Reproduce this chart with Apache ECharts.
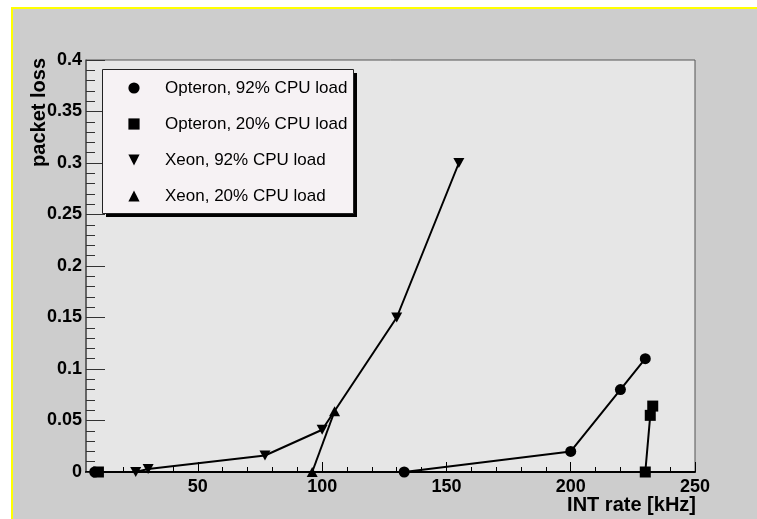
<!DOCTYPE html>
<html><head><meta charset="utf-8">
<script src="https://cdn.jsdelivr.net/npm/echarts@6/dist/echarts.min.js"></script>
<style>
html,body{margin:0;padding:0;background:#fff;}
#wrap{position:relative;width:757px;height:519px;overflow:hidden;}
#bg{position:absolute;left:11px;top:7px;right:0;bottom:0;background:#cdcdcd;border-top:2px solid #ffff00;border-left:2px solid #ffff00;}
#c{position:absolute;left:0;top:0;width:757px;height:519px;}
</style>
</head><body>
<div id="wrap"><div id="bg"></div><div id="c"></div></div>
<script>
// ---- data ----
const seriesNames = ['Opteron, 92% CPU load', 'Opteron, 20% CPU load', 'Xeon, 92% CPU load', 'Xeon, 20% CPU load'];
const opteron92 = [[8.5, 0], [133, 0], [200, 0.02], [220, 0.08], [230, 0.11]];
const opteron20 = [[10, 0], [230, 0], [232, 0.055], [233, 0.064]];
const xeon92 = [[25, 0], [30, 0.003], [77, 0.016], [100, 0.041], [130, 0.15], [155, 0.30]];
const xeon20 = [[96, 0], [105, 0.059]];
const xMajorTicks = [50, 100, 150, 200, 250];
const xMinorTicks = [10, 20, 30, 40, 60, 70, 80, 90, 110, 120, 130, 140, 160, 170, 180, 190, 210, 220, 230, 240];
const xTitle = 'INT rate [kHz]';
const yTitle = 'packet loss';

const FONT = "'Liberation Sans', Arial, Helvetica, sans-serif";
const chart = echarts.init(document.getElementById('c'), null, {renderer: 'canvas'});

function mkSeries(name, data, symbol, rotate, size) {
  return {
    name: name, type: 'line', data: data,
    xAxisIndex: 0, yAxisIndex: 0,
    symbol: symbol, symbolRotate: rotate, symbolSize: size,
    showAllSymbol: true,
    lineStyle: {color: '#000', width: 2},
    itemStyle: {color: '#000', borderWidth: 0},
    emphasis: {disabled: true},
    animation: false, z: 5
  };
}

const LEG = {x: 102, y: 69, w: 251, h: 144};

chart.setOption({
  backgroundColor: 'transparent',
  animation: false,
  grid: {
    left: 86, top: 60, right: 62, bottom: 47,
    show: true, backgroundColor: '#e6e6e6', borderColor: '#555', borderWidth: 1
  },
  xAxis: [{
    type: 'value', min: 5, max: 250, position: 'bottom',
    axisLine: {show: true, onZero: false, lineStyle: {color: '#000', width: 2}},
    axisTick: {show: true, inside: true, length: 10, customValues: xMajorTicks, lineStyle: {color: '#000', width: 1}},
    axisLabel: {show: true, customValues: xMajorTicks, margin: 6, fontFamily: FONT, fontSize: 18, fontWeight: 'bold', color: '#000'},
    splitLine: {show: false}
  }, {
    type: 'value', min: 5, max: 250, position: 'bottom', gridIndex: 0,
    axisLine: {show: false},
    axisTick: {show: true, inside: true, length: 5, customValues: xMinorTicks, lineStyle: {color: '#000', width: 1}},
    axisLabel: {show: false},
    splitLine: {show: false}
  }],
  yAxis: {
    type: 'value', min: 0, max: 0.4, interval: 0.05,
    axisLine: {show: true, onZero: false, lineStyle: {color: '#555', width: 1.5}},
    axisTick: {show: true, inside: true, length: 19, lineStyle: {color: '#333', width: 1}},
    minorTick: {show: true, splitNumber: 5, length: 9, lineStyle: {color: '#333', width: 1}},
    axisLabel: {margin: 4, fontFamily: FONT, fontSize: 18, fontWeight: 'bold', color: '#000'},
    splitLine: {show: false}, minorSplitLine: {show: false}
  },
  legend: {
    orient: 'vertical', left: LEG.x, top: LEG.y, z: 10,
    padding: [9, 3, 7, 5], itemGap: 16, itemWidth: 52, itemHeight: 14,
    backgroundColor: 'transparent', borderWidth: 0,
    lineStyle: {opacity: 0},
    selectedMode: false,
    data: seriesNames,
    textStyle: {fontFamily: FONT, fontSize: 17, color: '#000', lineHeight: 20}
  },
  graphic: [
    {type: 'rect', z: 8, silent: true, shape: {x: LEG.x + 4, y: LEG.y + 4, width: LEG.w, height: LEG.h}, style: {fill: '#000'}},
    {type: 'rect', z: 9, silent: true, shape: {x: LEG.x + 0.5, y: LEG.y + 0.5, width: LEG.w, height: LEG.h}, style: {fill: '#f6f2f4', stroke: '#222', lineWidth: 1}},
    {type: 'text', x: 696, y: 505, z: 100, style: {text: xTitle, font: 'bold 20px ' + FONT, fill: '#000', align: 'right', verticalAlign: 'middle'}},
    {type: 'text', x: 39, y: 58, rotation: Math.PI / 2, z: 100, style: {text: yTitle, font: 'bold 20px ' + FONT, fill: '#000', align: 'right', verticalAlign: 'middle'}}
  ],
  series: [
    mkSeries(seriesNames[0], opteron92, 'circle', 0, 11),
    mkSeries(seriesNames[1], opteron20, 'rect', 0, 11),
    mkSeries(seriesNames[2], xeon92, 'triangle', 180, [11, 10]),
    mkSeries(seriesNames[3], xeon20, 'triangle', 0, [11, 10])
  ]
});
</script>
</body></html>
